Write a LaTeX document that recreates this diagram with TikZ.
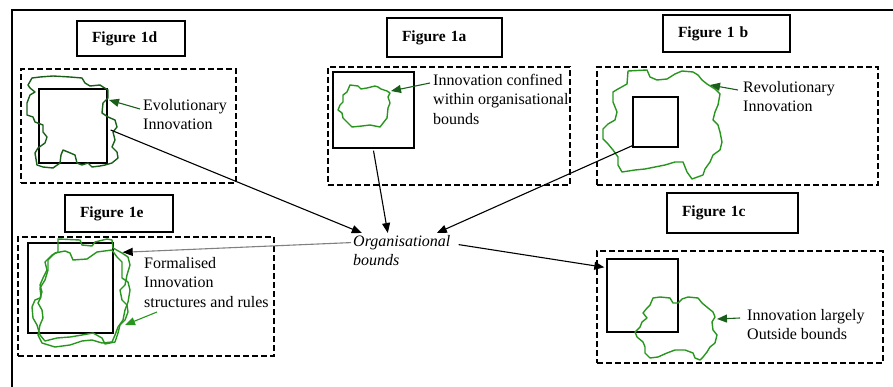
\documentclass[tikz,border=0pt]{standalone}
\usepackage{fontspec}
\setmainfont{Liberation Serif}
\usetikzlibrary{arrows.meta}
\definecolor{blobgreen}{RGB}{40,150,30}
\definecolor{darkgreen}{RGB}{25,95,25}

\begin{document}
\begin{tikzpicture}[x=1pt,y=-1pt,
  every node/.style={font=\fontsize{16}{19.5}\selectfont},
  figlabel/.style 2 args={draw,line width=1.5pt,inner xsep=15pt,inner ysep=0pt,align=left,
    text width=#1,minimum height=#2,font=\fontsize{15.5}{19.5}\selectfont\bfseries},
  bound/.style={draw,dash pattern=on 6pt off 3pt,line width=1.3pt,inner sep=0pt},
  square/.style={draw,line width=1.4pt,inner sep=0pt},
  note/.style={anchor=north west,inner sep=0pt,align=left},
  blob/.style={blobgreen,line width=1.4pt,line join=round},
  arr/.style={-{Triangle[length=10pt,width=8pt]},line width=1.1pt},
  garr/.style={arr,darkgreen}]
\useasboundingbox (0,0) rectangle (893,387);
\draw[line width=1.8pt] (893,10) -| (12,387);

\node[figlabel={78pt}{35pt}] (fig1d) at (131,38.5) {Figure 1d};
\node[figlabel={85pt}{39pt}] (fig1a) at (444.5,37.5) {Figure 1a};
\node[figlabel={97pt}{37pt}] (fig1b) at (726.5,33.5) {Figure 1 b};
\node[figlabel={78pt}{37pt}] (fig1e) at (119,213.5) {Figure 1e};
\node[figlabel={101pt}{40pt}] (fig1c) at (732.5,213) {Figure 1c};

\node[bound,minimum width=215pt,minimum height=114pt] (box1d) at (128.5,126) {};
\node[bound,minimum width=242pt,minimum height=118pt] (box1a) at (449,126) {};
\node[bound,minimum width=281pt,minimum height=118pt] (box1b) at (737.5,126) {};
\node[bound,minimum width=256pt,minimum height=119pt] (box1e) at (146,296.5) {};
\node[bound,minimum width=286pt,minimum height=112pt] (box1c) at (740,307) {};

\node[square,minimum width=68pt,minimum height=74pt] (sq1d) at (73,126) {};
\node[square,minimum width=81pt,minimum height=76pt] (sq1a) at (373.5,110) {};
\node[square,minimum width=45pt,minimum height=50pt] (sq1b) at (655.5,122) {};
\node[square,minimum width=85pt,minimum height=90pt] (sq1e) at (70.5,288) {};
\node[square,minimum width=71pt,minimum height=73pt] (sq1c) at (642.5,295.5) {};

\draw[blob,darkgreen] plot coordinates {(28,85) (32,78) (40,77) (53,76) (70,77) (82,78) (85,83) (90,86)
  (100,85) (103,87) (108,90) (108,98) (103,103) (102,113) (108,117) (115,120) (117,127) (113,132)
  (115,140) (112,147) (117,152) (118,158) (112,163) (105,165) (100,166) (92,167) (88,163) (82,165)
  (77,163) (75,155) (68,152) (63,150) (61,155) (60,163) (53,168) (43,167) (37,165) (35,153) (38,148)
  (45,143) (47,137) (43,132) (43,125) (35,122) (33,117) (27,115) (27,103) (30,95) (35,92) (30,88)} -- cycle;
\draw[blob] plot coordinates {(350,85) (358,86) (361,89) (367,88) (375,86) (378,87) (381,89) (387,91)
  (390,93) (388,97) (390,103) (388,108) (387,118) (380,127) (370,125) (362,126) (352,127) (348,123)
  (343,118) (342,113) (338,110) (340,105) (343,102) (343,95) (347,92)} -- cycle;
\draw[blob] plot coordinates {(628,71) (647,70) (650,77) (657,80) (667,79) (675,74) (682,71) (693,72)
  (698,75) (702,80) (707,84) (715,89) (720,94) (718,105) (715,112) (713,120) (718,125) (720,132)
  (722,142) (720,150) (713,155) (710,162) (705,169) (703,175) (692,179) (687,172) (683,162) (675,162)
  (665,165) (655,167) (645,169) (635,170) (622,172) (618,165) (618,157) (613,150) (608,144) (603,139)
  (603,129) (608,124) (615,120) (617,112) (613,102) (613,92) (618,89) (627,84)} -- cycle;
\draw[blob] plot coordinates {(653,298) (660,297) (670,298) (673,303) (678,303) (682,299) (688,297)
  (698,298) (702,303) (708,308) (713,312) (715,317) (712,322) (713,330) (717,335) (715,343) (710,347)
  (707,352) (703,357) (700,360) (695,358) (693,353) (685,350) (675,350) (667,353) (658,357) (650,358)
  (645,353) (645,347) (643,342) (637,337) (635,332) (640,327) (642,322) (647,318) (643,313) (647,308)
  (650,305)} -- cycle;
\draw[blob] plot coordinates {(58,239) (80,240) (82,245) (92,246) (95,242) (107,239) (112,240) (113,248)
  (122,253) (128,257) (130,265) (127,275) (125,285) (120,290) (122,300) (127,305) (128,312) (125,320)
  (120,325) (118,333) (115,342) (105,344) (102,338) (93,333) (82,335) (70,337) (57,338) (45,341)
  (40,335) (37,325) (33,318) (32,307) (35,300) (40,298) (42,292) (40,285) (43,278) (47,270) (45,262)
  (52,255) (58,252)} -- cycle;
\draw[blob] plot coordinates {(48,260) (55,253) (65,251) (70,253) (73,260) (87,259) (97,252) (112,250)
  (117,257) (122,262) (122,278) (128,282) (130,290) (128,302) (125,310) (123,320) (118,327) (115,335)
  (112,342) (102,343) (92,340) (82,341) (70,345) (55,347) (42,343) (38,335) (40,325) (43,318) (42,310)
  (38,303) (41,297) (40,288) (45,280) (48,270)} -- cycle;

\node[note] (evo) at (143,99) {Evolutionary\\Innovation};
\node[note] (conf) at (433,74) {Innovation confined\\within organisational\\bounds};
\node[note] (rev) at (743,81) {Revolutionary\\Innovation};
\node[note] (form) at (144,257) {Formalised\\Innovation\\structures and rules};
\node[note] (outs) at (747,309) {Innovation largely\\Outside bounds};
\node[note,inner sep=2pt,font=\fontsize{16}{19.5}\selectfont\itshape] (org) at (351,233) {Organisational\\bounds};

\coordinate (tip1d) at (109,100);
\coordinate (tip1a) at (391,91);
\coordinate (tip1b) at (710,85);
\coordinate (tip1c) at (717,319);
\coordinate (tip1e) at (125,325);

\draw[garr] ([xshift=-3pt,yshift=-10pt]evo.north west) -- (tip1d);
\draw[garr] ([xshift=-3pt,yshift=-9pt]conf.north west) -- (tip1a);
\draw[garr] ([xshift=-5pt,yshift=-9pt]rev.north west) -- (tip1b);
\draw[garr] ([xshift=-7pt,yshift=-9pt]outs.north west) -- (tip1c);
\draw[garr,blobgreen] ([xshift=13pt,yshift=-55pt]form.north west) -- (tip1e);

\draw[arr] ([xshift=3pt,yshift=-4pt]sq1d.east) -- ([xshift=-40pt]org.north);
\draw[arr] ([yshift=-2pt]sq1a.south) -- ([xshift=-14pt]org.north);
\draw[arr] ([yshift=2pt]sq1b.south west) -- ([xshift=35pt]org.north);
\draw[arr,gray,-{Triangle[length=10pt,width=8pt,color=black]}] ([yshift=8pt]org.west) -- ([xshift=9pt,yshift=-10pt]sq1e.north east);
\draw[arr] ([xshift=6pt,yshift=6pt]org.east) -- ([xshift=-2pt,yshift=-9pt]sq1c.north west);
\end{tikzpicture}
\end{document}
